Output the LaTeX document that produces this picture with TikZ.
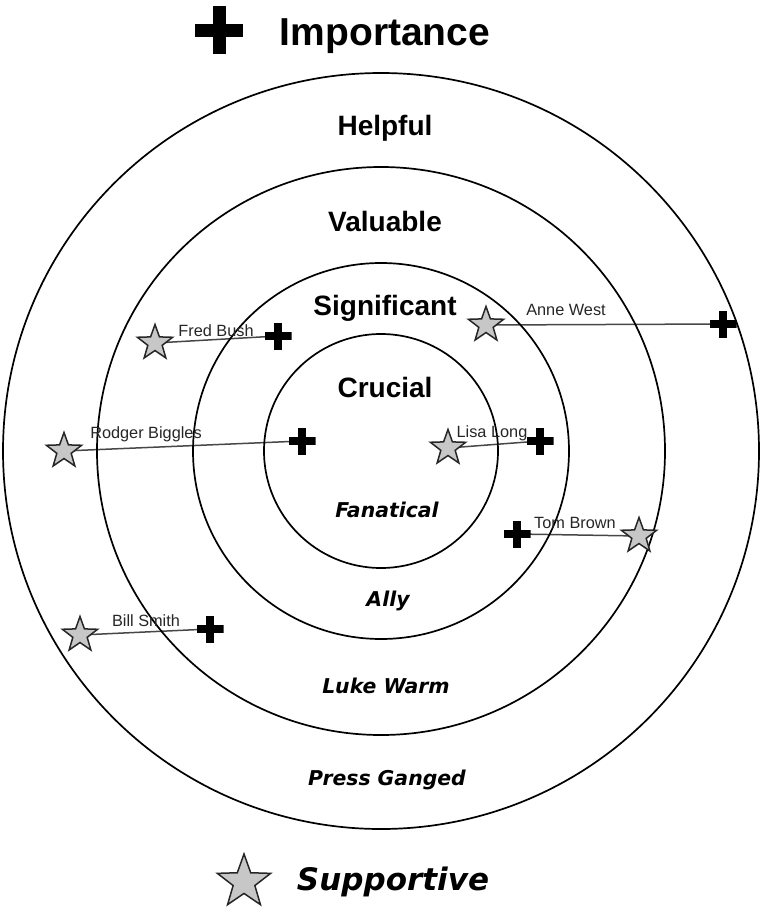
\documentclass[tikz,border=0pt]{standalone}
\usepackage{fontspec}
\setmainfont{Liberation Sans}
\newfontfamily\handfont{DejaVu Sans}
\usetikzlibrary{shapes.geometric,backgrounds}
\begin{document}
\begin{tikzpicture}[x=1pt,y=-1pt,
  ring/.style={draw=black,line width=1.7pt},
  zonetitle/.style={anchor=base,font=\bfseries\fontsize{28}{30}\selectfont},
  zonemood/.style={anchor=base,font=\handfont\bfseries\itshape\fontsize{20.4}{22}\selectfont},
  person/.style={anchor=base,text=black!85,font=\fontsize{16.3}{18}\selectfont},
  supportstar/.style={star,star points=5,star point ratio=2.45,inner sep=0pt,
    minimum size=#1,draw=black!85,line width=1.5pt,fill=black!22},
  plusmark/.style 2 args={inner sep=0pt,minimum width=#1,minimum height=#1,
    path picture={
      \fill[black] ([yshift=-#2]path picture bounding box.west) rectangle ([yshift=#2]path picture bounding box.east);
      \fill[black] ([xshift=-#2]path picture bounding box.south) rectangle ([xshift=#2]path picture bounding box.north);
    }},
  tie/.style={draw=black!72,line width=1.5pt}
]
\useasboundingbox (0,0) rectangle (762,910);

% concentric rings
\coordinate (ctr) at (381,451);
\draw[ring] (ctr) circle[radius=378pt];
\draw[ring] (ctr) circle[radius=284pt];
\draw[ring] (ctr) circle[radius=188pt];
\draw[ring] (ctr) circle[radius=117pt];

% legend
\node[plusmark={48pt}{6.5pt}] (legplus) at (219,30) {};
\node[anchor=base,font=\bfseries\fontsize{39}{41}\selectfont] (legimp) at (385,45) {Importance};
\node[supportstar=56pt] (legstar) at (244,882) {};
\node[anchor=base,font=\handfont\bfseries\itshape\fontsize{31}{33}\selectfont] (legsup) at (393,890) {Supportive};

% importance levels
\node[zonetitle] (helpful) at (385,135) {Helpful};
\node[zonetitle] (valuable) at (385,231) {Valuable};
\node[zonetitle] (significant) at (385,315) {Significant};
\node[zonetitle] (crucial) at (385,397) {Crucial};

% support levels
\node[zonemood] (fanatical) at (387,517) {Fanatical};
\node[zonemood] (ally) at (388,606) {Ally};
\node[zonemood] (lukewarm) at (386,693) {Luke Warm};
\node[zonemood] (pressganged) at (387,785) {Press Ganged};

% stakeholders: star = support, plus = importance
\node[supportstar=37pt] (fredS) at (155,343) {};
\node[plusmark={27pt}{4pt}] (fredP) at (278,336) {};
\node[person] (fredL) at (216,336) {Fred Bush};

\node[supportstar=37pt] (anneS) at (486,325) {};
\node[plusmark={27pt}{4pt}] (anneP) at (723,324) {};
\node[person] (anneL) at (566,315) {Anne West};

\node[supportstar=37pt] (rodgerS) at (64,451) {};
\node[plusmark={27pt}{4pt}] (rodgerP) at (302,441) {};
\node[person] (rodgerL) at (146,438) {Rodger Biggles};

\node[supportstar=37pt] (lisaS) at (448,448) {};
\node[plusmark={27pt}{4pt}] (lisaP) at (540,441) {};
\node[person] (lisaL) at (492,437) {Lisa Long};

\node[plusmark={27pt}{4pt}] (tomP) at (517,534) {};
\node[supportstar=37pt] (tomS) at (639,536) {};
\node[person] (tomL) at (575,528) {Tom Brown};

\node[supportstar=37pt] (billS) at (80,635) {};
\node[plusmark={27pt}{4pt}] (billP) at (210,629) {};
\node[person] (billL) at (146,626) {Bill Smith};

% connectors run behind the markers
\begin{scope}[on background layer]
  \draw[tie] (fredS.center) -- (fredP.center);
  \draw[tie] (anneS.center) -- (anneP.center);
  \draw[tie] (rodgerS.center) -- (rodgerP.center);
  \draw[tie] (lisaS.center) -- (lisaP.center);
  \draw[tie] (tomP.center) -- (tomS.center);
  \draw[tie] (billS.center) -- (billP.center);
\end{scope}
\end{tikzpicture}
\end{document}
